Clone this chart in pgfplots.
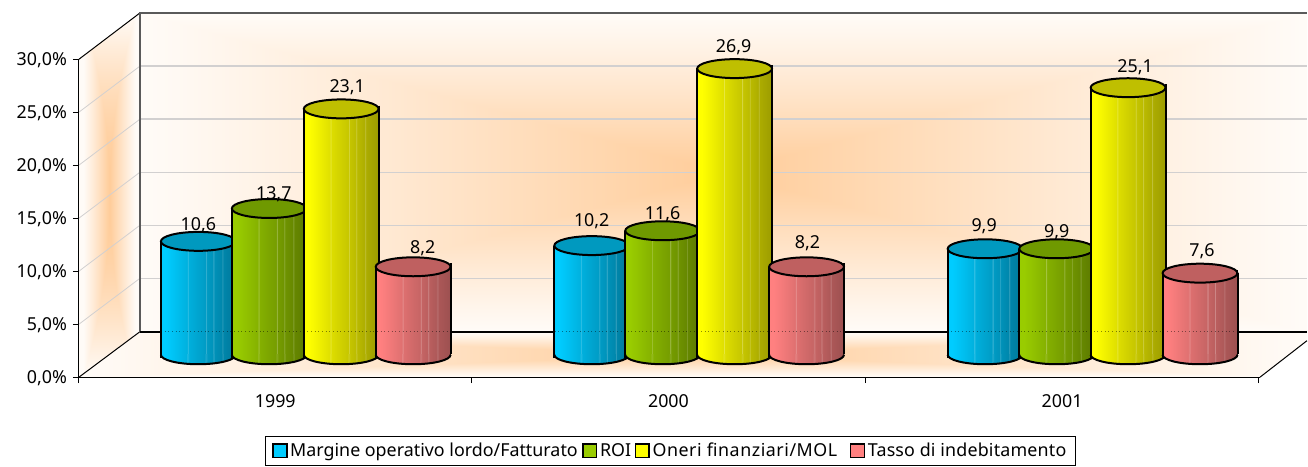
\documentclass[border=0pt]{standalone}
\usepackage{pgfplots}
\pgfplotsset{compat=1.18}
\usepackage{pgfplotstable}
\usepackage{fontspec}
\setmainfont{Noto Sans}
\definecolor{wallline}{HTML}{5A5A5A}
\definecolor{gridc}{HTML}{D2D0D0}

\pgfplotstableread{
x v dx dy
198.5 10.6 0 10.6
592.2 10.2 0 19
985.9 9.9 -1 17
}\tblue
\pgfplotstableread{
x v dx dy
269.5 13.7 4.5 9
663.2 11.6 0 11
1057.5 9.9 0 11
}\tgreen
\pgfplotstableread{
x v dx dy
341.5 23.1 6 16
735.2 26.9 -1 16
1129 25.1 7 15
}\tyellow
\pgfplotstableread{
x v dx dy
413.5 8.2 9.5 13
807.2 8.2 1 18
1201 7.6 2 17
}\tred

\pgfdeclarefunctionalshading{glow}{\pgfpoint{-50bp}{-50bp}}{\pgfpoint{50bp}{50bp}}{}{
 abs 25 div exch abs 25 div
 2 copy lt {exch} if pop
 dup 1 gt {pop 1} if
 1 exch sub 1.1 exp
 dup 0.185 mul 0.985 exch sub
 exch 0.37 mul 0.97 exch sub
 1 3 1 roll
}
\pgfdeclarefunctionalshading{glowwall}{\pgfpoint{-50bp}{-50bp}}{\pgfpoint{50bp}{50bp}}{}{
 abs 25 div dup mul exch abs 25 div 1.15 mul
 2 copy lt {exch} if pop
 dup 1 gt {pop 1} if
 1 exch sub 1.1 exp
 dup 0.185 mul 0.985 exch sub
 exch 0.37 mul 0.97 exch sub
 1 3 1 roll
}

\newcommand\defcyl[4]{%
 \definecolor{#1L}{HTML}{#2}\definecolor{#1D}{HTML}{#3}\definecolor{#1T}{HTML}{#4}%
 \pgfdeclarehorizontalshading{shade#1}{100bp}{%
  color(0bp)=(#1L); color(25bp)=(#1L); color(28bp)=(#1L);
  color(31bp)=(#1L!94!#1D); color(38bp)=(#1L!78!#1D);
  color(42.4bp)=(#1L!68!#1D); color(42.8bp)=(#1L!68!#1D!70!white); color(43.4bp)=(#1L!66!#1D);
  color(50bp)=(#1L!52!#1D);
  color(54.6bp)=(#1L!43!#1D); color(55bp)=(#1L!43!#1D!70!white); color(55.6bp)=(#1L!41!#1D);
  color(59.6bp)=(#1L!32!#1D); color(60bp)=(#1L!32!#1D!75!white); color(60.6bp)=(#1L!30!#1D);
  color(65.6bp)=(#1L!18!#1D); color(66bp)=(#1L!18!#1D!75!white); color(66.6bp)=(#1L!16!#1D);
  color(75bp)=(#1D); color(100bp)=(#1D)}%
 \pgfdeclareplotmark{top#1}{%
  \draw[line width=1.5pt,black,fill=#1T,rotate=5.2] (0pt,0pt) ellipse (28.1pt and 7.1pt);
  \draw[line width=1.5pt,black] (28.1pt,2.5pt) -- (28.1pt,-0.4pt);}%
 \pgfdeclareplotmark{basefill#1}{%
  \path[shade,shading=shade#1,rotate=5.2] (0pt,-0.8pt) ellipse (28.1pt and 7.1pt);}%
 \pgfdeclareplotmark{basearc}{%
  \draw[line width=1.5pt,black,rotate=5.2] (-28.1pt,-0.8pt) arc[start angle=180,end angle=360,x radius=28.1pt,y radius=7.1pt];
  \draw[line width=1.5pt,black] (-28.1pt,-3.3pt) -- (-28.1pt,0.4pt);}%
}
\defcyl{B}{00CCFF}{00789A}{0099BF}
\defcyl{G}{99CC00}{5C7A00}{6F9900}
\defcyl{Y}{FFFF00}{9C9C00}{BFBF00}
\defcyl{R}{FF8080}{9C5050}{BF6060}
\definecolor{cBl}{HTML}{00CCFF}\definecolor{cGr}{HTML}{99CC00}\definecolor{cYe}{HTML}{FFFF00}\definecolor{cRe}{HTML}{FF8080}
\pgfplotsset{cylbar/.style={ybar,bar width=75,bar shift=0pt,draw=none,shade,shading=#1,forget plot}}
\newcommand\cylseries[4]{% table, key, legend colour, legend text
 \addplot[only marks,mark=basefill#2,forget plot] table[x=x,y expr=0]{#1};
 \addplot[cylbar=shade#2,skip coords between index={1}{3}] table[x=x,y=v]{#1};
 \addplot[cylbar=shade#2,skip coords between index={0}{1},skip coords between index={2}{3}] table[x=x,y=v]{#1};
 \addplot[cylbar=shade#2,skip coords between index={0}{2}] table[x=x,y=v]{#1};
 \addplot[only marks,mark=basearc,forget plot] table[x=x,y expr=0]{#1};
 \addplot[ycomb,black,line width=1.5pt,no markers,forget plot] table[x expr=\thisrow{x}-37.5,y=v]{#1};
 \addplot[ycomb,black,line width=1.5pt,no markers,forget plot] table[x expr=\thisrow{x}+37.5,y=v]{#1};
 \addplot[only marks,mark=top#2,forget plot,point meta=y,
   visualization depends on={\thisrow{dx}\as\dx},
   visualization depends on={\thisrow{dy}\as\dy},
   nodes near coords={\pgfmathprintnumber[fixed,fixed zerofill,precision=1,use comma,assume math mode=true]{\pgfplotspointmeta}},
   every node near coord/.style={anchor=base,inner sep=0pt,text=black,font=\fontsize{13.4}{15}\selectfont,xshift=0.75*\dx pt,yshift=0.75*\dy pt}]
   table[x=x,y=v]{#1};
 \addlegendimage{legend image code/.code={\draw[draw=black,fill=#3,line width=1.1pt] (0pt,-4.8pt) rectangle (10.4pt,5.2pt);}}
 \addlegendentry{#4}
}

\begin{document}
\begin{tikzpicture}
\begin{scope}[x=.75pt,y=-.75pt]
 % walls and floor
 \path[shade,shading=glow] (140,13) rectangle (1308,332);
 \path[shade,shading=glowwall] (79,59) -- (140,13) -- (140,332) -- (79,377.5) -- cycle;
 \path[shade,shading=glow] (79,377.5) -- (140,332) -- (1308,332) -- (1308,341) -- (1261,377.5) -- cycle;
 % grid
 \foreach \k in {1,...,5}{
  \pgfmathsetmacro\yb{331.7-53.1*\k}
  \pgfmathsetmacro\yf{377.5-53.05*\k}
  \draw[gridc,line width=.6pt] (79,\yf) -- (140,\yb);
  \draw[gridc,line width=1.1pt] (140,\yb) -- (1308,\yb);
 }
 \draw[black,line width=.75pt] (79,59.3) -- (140,13);
 \draw[black,line width=.75pt] (79,377.5) -- (140,332);
 \draw[black,line width=.75pt] (1261,377.5) -- (1308,341);
 \draw[wallline,line width=1.1pt] (140,332) -- (140,13) -- (1308,13);
 \draw[black,line width=1.6pt] (140,332) -- (1308,332);
\end{scope}
\begin{axis}[
 at={(59.25pt,-283.125pt)},anchor=south west,
 scale only axis,width=886.5pt,height=238.65pt,
 xmin=79,xmax=1261,ymin=-2.217,ymax=27.783,
 clip=false,clip mode=individual,
 axis x line=bottom,axis y line=left,
 axis line style={-,black,line width=.75pt},
 tick align=outside,
 major tick length=4.5pt,
 tick style={black,line width=.75pt},
 xtick={79,472.3,866,1260},xticklabels={},
 extra x ticks={275.5,669,1063},
 extra x tick labels={1999,2000,2001},
 extra x tick style={major tick length=0pt,tick label style={yshift=-9.75pt}},
 ytick={-2.217,2.783,7.783,12.783,17.783,22.783,27.783},
 yticklabels={0{,}0\%,5{,}0\%,10{,}0\%,15{,}0\%,20{,}0\%,25{,}0\%,30{,}0\%},
 tick label style={font=\fontsize{13.4}{15}\selectfont},
 y tick label style={xshift=-1pt,yshift=-1pt},
 legend columns=4,
 legend style={at={(0.1574,-0.2326)},anchor=west,draw=black,fill=white,line width=.75pt,
   font=\fontsize{13.4}{15}\selectfont,inner xsep=5.2pt,inner ysep=2.8pt,
   /tikz/column 2/.style={column sep=1.3pt},
   /tikz/column 4/.style={column sep=0.5pt},
   /tikz/column 6/.style={column sep=7.5pt}},
]
\cylseries{\tblue}{B}{cBl}{Margine operativo lordo/Fatturato}
\cylseries{\tgreen}{G}{cGr}{ROI}
\cylseries{\tyellow}{Y}{cYe}{\addfontfeatures{LetterSpace=3}Oneri finanziari/MOL}
\cylseries{\tred}{R}{cRe}{\addfontfeatures{LetterSpace=1}Tasso di indebitamento\hspace{5pt}}
\addplot[black,dotted,line width=.75pt,opacity=.45,forget plot] coordinates {(161,2.075)(452,2.075)};
\addplot[black,dotted,line width=.75pt,opacity=.45,forget plot] coordinates {(555,2.075)(846,2.075)};
\addplot[black,dotted,line width=.75pt,opacity=.45,forget plot] coordinates {(948,2.075)(1240,2.075)};
\end{axis}
\path[use as bounding box] (0pt,0pt) rectangle (981pt,-350.25pt);
\end{tikzpicture}
\end{document}
